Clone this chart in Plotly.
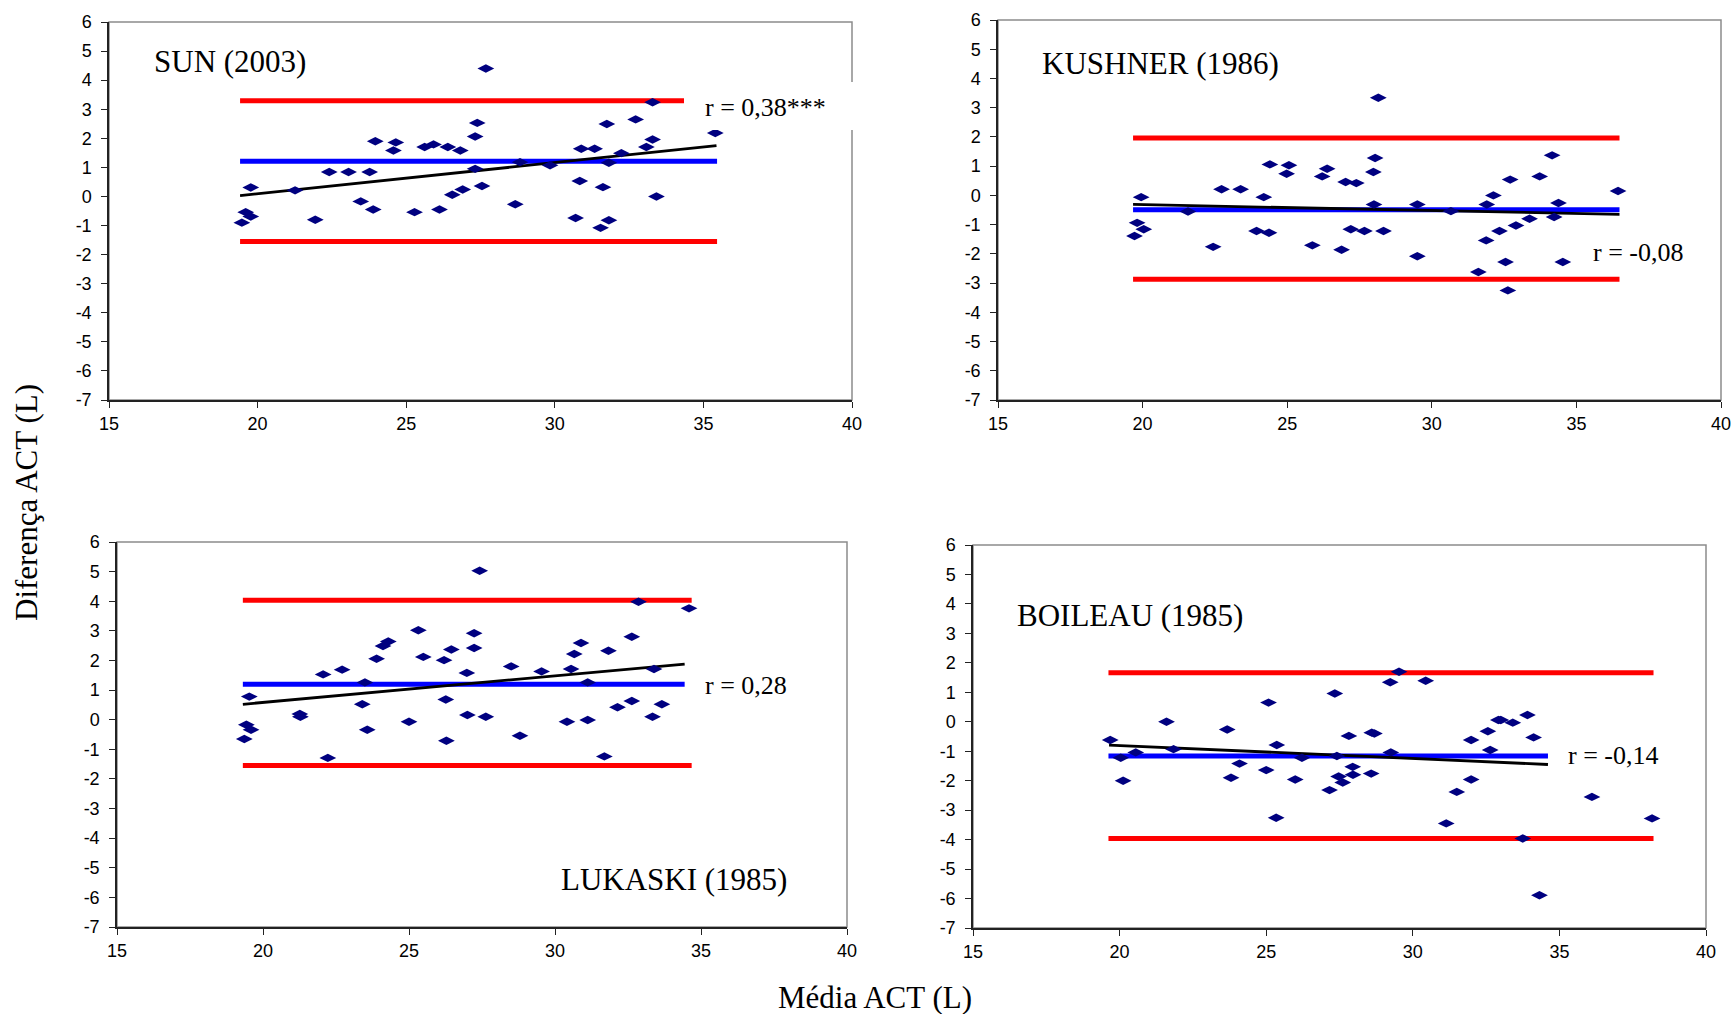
import plotly.graph_objects as go

# ---- Dados: média vs diferença de ACT (L) para cada equação ----
sun_media = [19.47, 19.60, 19.77, 19.77, 21.26, 21.94, 22.41, 23.06, 23.47, 23.77,
             23.89, 23.96, 24.57, 24.65, 25.28, 25.62, 25.92, 26.12, 26.40, 26.55,
             26.82, 26.90, 27.32, 27.32, 27.39, 27.55, 27.68, 28.67, 28.83, 29.84,
             30.70, 30.84, 30.89, 31.34, 31.54, 31.62, 31.75, 31.82, 31.82, 32.24,
             32.72, 33.08, 33.29, 33.29, 33.42, 35.40]
sun_dif = [-0.90, -0.54, -0.69, 0.31, 0.21, -0.80, 0.84, 0.84, -0.17, 0.84,
           -0.45, 1.90, 1.58, 1.86, -0.54, 1.70, 1.79, -0.45, 1.70, 0.06,
           1.58, 0.24, 2.06, 0.95, 2.53, 0.36, 4.40, -0.27, 1.18, 1.07,
           -0.74, 0.53, 1.64, 1.64, -1.08, 0.32, 2.49, -0.82, 1.16, 1.49,
           2.65, 1.70, 1.96, 3.24, 0.00, 2.18]

kus_media = [19.72, 19.81, 19.95, 20.04, 21.57, 22.44, 22.73, 23.39, 23.94, 24.19,
             24.37, 24.40, 24.98, 25.06, 25.87, 26.21, 26.38, 26.88, 27.02, 27.20,
             27.39, 27.67, 27.98, 28.00, 28.04, 28.15, 28.33, 29.50, 29.50, 30.66,
             31.61, 31.88, 31.90, 32.13, 32.34, 32.55, 32.63, 32.71, 32.91, 33.38,
             33.73, 34.16, 34.23, 34.38, 34.53, 36.44]
kus_dif = [-1.39, -0.94, -0.06, -1.16, -0.55, -1.76, 0.21, 0.21, -1.22, -0.06,
           -1.28, 1.06, 0.74, 1.03, -1.71, 0.65, 0.91, -1.86, 0.46, -1.16,
           0.42, -1.22, 0.80, -0.31, 1.28, 3.34, -1.22, -0.31, -2.08, -0.54,
           -2.62, -1.54, -0.31, 0.00, -1.22, -2.28, -3.25, 0.54, -1.03, -0.80,
           0.65, 1.37, -0.74, -0.26, -2.28, 0.15]

luk_media = [19.36, 19.43, 19.53, 19.59, 21.26, 21.28, 22.06, 22.22, 22.71, 23.40,
             23.49, 23.57, 23.89, 24.11, 24.29, 25.00, 25.32, 25.49, 26.20, 26.26,
             26.28, 26.45, 26.98, 27.00, 27.23, 27.23, 27.42, 27.63, 28.50, 28.80,
             29.54, 30.41, 30.55, 30.66, 30.89, 31.12, 31.12, 31.69, 31.83, 32.14,
             32.63, 32.63, 32.86, 33.34, 33.39, 33.66, 34.59]
luk_dif = [-0.65, -0.17, 0.78, -0.34, 0.19, 0.10, 1.53, -1.29, 1.69, 0.52,
           1.26, -0.34, 2.06, 2.49, 2.64, -0.07, 3.02, 2.12, 2.01, 0.68,
           -0.71, 2.37, 1.58, 0.16, 2.42, 2.92, 5.03, 0.10, 1.80, -0.54,
           1.63, -0.07, 1.71, 2.22, 2.59, -0.01, 1.26, -1.24, 2.33, 0.42,
           2.80, 0.63, 3.98, 0.10, 1.71, 0.52, 3.76]

boi_media = [19.68, 20.04, 20.12, 20.55, 21.60, 21.84, 23.67, 23.80, 24.09, 25.00,
             25.08, 25.34, 25.36, 25.99, 26.22, 27.16, 27.34, 27.41, 27.47, 27.61,
             27.82, 27.95, 27.96, 28.58, 28.60, 28.69, 29.23, 29.25, 29.53, 30.44,
             31.14, 31.50, 31.99, 31.99, 32.56, 32.64, 32.92, 33.00, 33.41, 33.91,
             33.75, 34.12, 34.32, 36.11, 38.16]
boi_dif = [-0.62, -1.22, -2.00, -1.04, 0.00, -0.93, -0.26, -1.90, -1.42, -1.64,
           0.65, -3.26, -0.79, -1.96, -1.22, -2.32, 0.96, -1.16, -1.86, -2.06,
           -0.48, -1.53, -1.80, -1.76, -0.37, -0.40, 1.34, -1.04, 1.70, 1.39,
           -3.45, -2.38, -0.62, -1.96, -0.32, -0.96, 0.06, 0.06, -0.03, 0.23,
           -3.96, -0.53, -5.89, -2.55, -3.28]

# Limites de concordância, média das diferenças e retas de regressão
# [x inicial, x final] de cada linha horizontal
sun_lim_x = [19.41, 35.46]
sun_lim_sup, sun_bias, sun_lim_inf = 3.29, 1.21, -1.55
sun_reg_x, sun_reg_y = [19.41, 35.44], [0.03, 1.75]

kus_lim_x = [19.67, 36.49]
kus_lim_sup, kus_bias, kus_lim_inf = 1.96, -0.49, -2.87
kus_reg_x, kus_reg_y = [19.67, 36.49], [-0.31, -0.65]

luk_lim_x = [19.31, 34.68]
luk_bias_x = [19.31, 34.44]
luk_lim_sup, luk_bias, luk_lim_inf = 4.03, 1.20, -1.55
luk_reg_x, luk_reg_y = [19.31, 34.44], [0.52, 1.88]

boi_lim_x = [19.62, 38.21]
boi_bias_x = [19.62, 34.61]
boi_lim_sup, boi_bias, boi_lim_inf = 1.66, -1.16, -3.96
boi_reg_x, boi_reg_y = [19.64, 34.61], [-0.79, -1.45]

x_ticks = [15, 20, 25, 30, 35, 40]
y_ticks = list(range(-7, 7))
y_tick_text = [str(v) for v in y_ticks]  # hífen simples nos negativos

W, H = 1735, 1014

# Caixas das áreas de plotagem em pixels (esq, dir, topo, base)
boxes = [(109, 852, 22, 400), (998, 1721, 20, 400),
         (117, 847, 542, 927), (973, 1706, 545, 928)]

SERIF = "Times New Roman, Liberation Serif, serif"
SANS = "Arial, Liberation Sans, sans-serif"

fig = go.Figure()


def add_panel(i, mx, dy, lim_x, sup, bias, inf, reg_x, reg_y, bias_x=None):
    xa = "x" if i == 1 else f"x{i}"
    ya = "y" if i == 1 else f"y{i}"
    bx = bias_x if bias_x is not None else lim_x
    for yv, xs, col in [(sup, lim_x, "#ff0000"), (inf, lim_x, "#ff0000"),
                        (bias, bx, "#0000ff")]:
        fig.add_trace(go.Scatter(x=xs, y=[yv, yv], mode="lines",
                                 line=dict(color=col, width=5),
                                 xaxis=xa, yaxis=ya, showlegend=False,
                                 hoverinfo="skip"))
    fig.add_trace(go.Scatter(x=reg_x, y=reg_y, mode="lines",
                             line=dict(color="black", width=2.8),
                             xaxis=xa, yaxis=ya, showlegend=False,
                             hoverinfo="skip"))
    fig.add_trace(go.Scatter(x=mx, y=dy, mode="markers",
                             marker=dict(symbol="diamond-wide", size=12,
                                         color="#000080"),
                             xaxis=xa, yaxis=ya, showlegend=False))


add_panel(1, sun_media, sun_dif, sun_lim_x, sun_lim_sup, sun_bias, sun_lim_inf,
          sun_reg_x, sun_reg_y)
add_panel(2, kus_media, kus_dif, kus_lim_x, kus_lim_sup, kus_bias, kus_lim_inf,
          kus_reg_x, kus_reg_y)
add_panel(3, luk_media, luk_dif, luk_lim_x, luk_lim_sup, luk_bias, luk_lim_inf,
          luk_reg_x, luk_reg_y, luk_bias_x)
add_panel(4, boi_media, boi_dif, boi_lim_x, boi_lim_sup, boi_bias, boi_lim_inf,
          boi_reg_x, boi_reg_y, boi_bias_x)

layout = dict(width=W, height=H, margin=dict(l=0, r=0, t=0, b=0),
              plot_bgcolor="white", paper_bgcolor="white", showlegend=False)

shapes = []
for i, (l, r, t, b) in enumerate(boxes, start=1):
    sx = "" if i == 1 else str(i)
    axis_common = dict(showgrid=False, zeroline=False, showline=True,
                       automargin=False,
                       linecolor="#222222", linewidth=1.5, ticks="outside",
                       ticklen=6, tickwidth=1.2, tickcolor="#222222",
                       tickfont=dict(family=SANS, size=18, color="black"))
    layout[f"xaxis{sx}"] = dict(domain=[l / W, r / W], range=[15, 40],
                                tickvals=x_ticks, anchor=f"y{sx}",
                                ticklabelstandoff=1, **axis_common)
    layout[f"yaxis{sx}"] = dict(domain=[1 - b / H, 1 - t / H], range=[-7, 6],
                                tickvals=y_ticks, ticktext=y_tick_text,
                                anchor=f"x{sx}", ticklabelstandoff=6,
                                **axis_common)
    # moldura cinza da área de plotagem
    shapes.append(dict(type="rect", xref=f"x{sx} domain", yref=f"y{sx} domain",
                       x0=0, x1=1, y0=0, y1=1, layer="below",
                       line=dict(color="#8c8c8c", width=1.5)))

# caixa branca do rótulo de correlação do primeiro painel
shapes.append(dict(type="rect", xref="paper", yref="paper",
                   x0=684 / W, x1=855 / W, y0=1 - 130 / H, y1=1 - 82 / H,
                   layer="above", line=dict(width=0), fillcolor="white"))
layout["shapes"] = shapes


def label(text, xa, ya, x, y, size):
    return dict(text=text, xref=xa, yref=ya, x=x, y=y, xanchor="left",
                yanchor="middle", showarrow=False,
                font=dict(family=SERIF, size=size, color="black"))


annotations = [
    label("SUN (2003)", "x", "y", 16.44, 4.63, 31),
    label("r = 0,38***", "x", "y", 34.99, 3.05, 26),
    label("KUSHNER (1986)", "x2", "y2", 16.45, 4.51, 31),
    label("r = -0,08", "x2", "y2", 35.49, -1.94, 26),
    label("r = 0,28", "x3", "y3", 35.06, 1.15, 26),
    label("LUKASKI (1985)", "x3", "y3", 30.14, -5.4, 31),
    label("BOILEAU (1985)", "x4", "y4", 16.43, 3.62, 31),
    label("r = -0,14", "x4", "y4", 35.22, -1.15, 26),
    dict(text="Diferença ACT (L)", xref="paper", yref="paper",
         x=26 / W, y=1 - 503 / H, xanchor="center", yanchor="middle",
         textangle=-90, showarrow=False,
         font=dict(family=SERIF, size=31, color="black")),
    dict(text="Média ACT (L)", xref="paper", yref="paper",
         x=874.7 / W, y=1 - 997 / H, xanchor="center", yanchor="middle",
         showarrow=False, font=dict(family=SERIF, size=31, color="black")),
]
layout["annotations"] = annotations

fig.update_layout(**layout)
fig.write_html("out.html")
